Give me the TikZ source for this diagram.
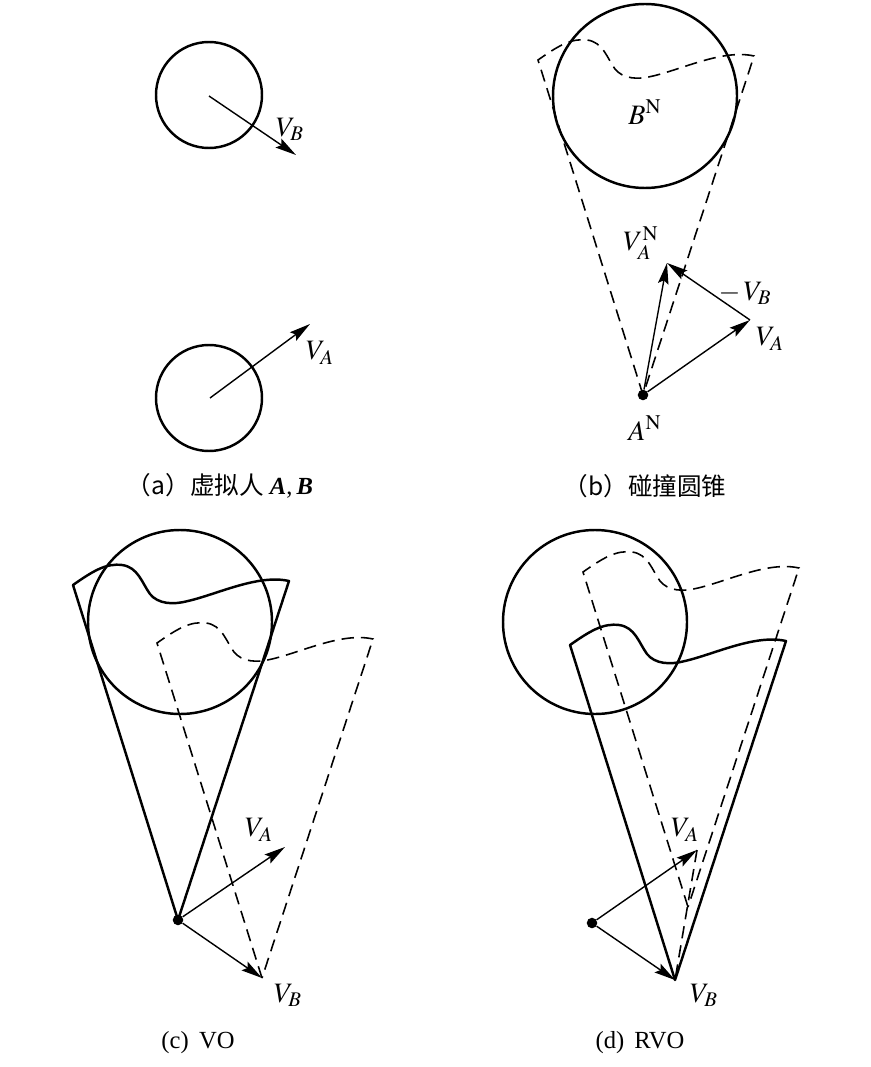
\documentclass[tikz,border=0pt]{standalone}
\usepackage{mathptmx}
\usepackage{fontspec}
\setmainfont{Liberation Serif}
\newfontfamily\cjk{Noto Sans CJK SC}
\usetikzlibrary{arrows.meta}

\tikzset{
  circ/.style={line width=1.4pt},
  vec/.style={line width=0.8pt,-{Stealth[length=12pt,width=6pt,inset=2pt]}},
  solidcone/.style={line width=1.4pt,line join=round},
  dashcone/.style={line width=0.9pt,dash pattern=on 7pt off 4pt},
  lab/.style={font=\fontsize{16}{18}\selectfont,inner sep=0pt},
  captxt/.style={font=\fontsize{14}{16}\selectfont,inner sep=0pt},
  dot/.style={circle,fill,inner sep=0pt,minimum size=6pt},
  vocone/.pic={
    \draw[pic actions] (0,0) -- (-105,-335)
      .. controls (-85,-349) and (-72,-357) .. (-56,-355)
      .. controls (-40,-353) and (-36,-337) .. (-28,-326)
      .. controls (-20,-316) and (-5,-315) .. (10,-319)
      .. controls (40,-326) and (80,-346) .. (111,-339) -- cycle;
  }
}

\begin{document}
\begin{tikzpicture}[x=0.02cm,y=-0.02cm]
  \useasboundingbox (0,0) rectangle (870,1067);

  % (a)
  \draw[circ] (209,95) circle (53);
  \draw[circ] (209,398) circle (53);
  \coordinate (aB) at (209,96);
  \coordinate (aBe) at (296,155);
  \coordinate (aA) at (210,398);
  \coordinate (aAe) at (310,324);
  \draw[vec] (aB) -- (aBe);
  \draw[vec] (aA) -- (aAe);
  \node[lab] (laB) at (290,129) {$V_B$};
  \node[lab] (laA) at (320,353) {$V_A$};
  \node[captxt] (capa) at (220,486) {{\cjk （a）虚拟人} \textbf{\textit{A}},\,\textbf{\textit{B}}};

  % (b)
  \draw[circ] (645,96) circle (92);
  \pic[dashcone] at (643,395) {vocone};
  \node[dot] (bAN) at (643,395) {};
  \coordinate (bVA) at (750,320);
  \coordinate (bVN) at (667,263);
  \draw[vec] (bAN) -- (bVA);
  \draw[vec] (bVA) -- (bVN);
  \draw[vec] (bAN) -- (bVN);
  \node[lab] (lbB) at (645,112) {$B^{\mathrm{N}}$};
  \node[lab] (lbVN) at (641,243) {$V_A^{\mathrm{N}}$};
  \node[lab] (lbmB) at (745,293) {$-\,V_B$};
  \node[lab] (lbA) at (770,339) {$V_A$};
  \node[lab] (lbAN) at (645,428) {$A^{\mathrm{N}}$};
  \node[captxt] (capb) at (645,486) {\cjk （b）碰撞圆锥};

  % (c)
  \draw[circ] (180,622) circle (92);
  \pic[solidcone] at (178,920) {vocone};
  \pic[dashcone] at (262,978) {vocone};
  \node[dot] (cO) at (178,920) {};
  \coordinate (cVA) at (285,847);
  \coordinate (cVB) at (262,978);
  \draw[vec] (cO) -- (cVA);
  \draw[vec] (cO) -- (cVB);
  \node[lab] (lcA) at (259,830) {$V_A$};
  \node[lab] (lcB) at (288,995) {$V_B$};
  \node[captxt] (capc) at (198,1043) {(c)\, VO};

  % (d)
  \draw[circ] (595,622) circle (92);
  \pic[solidcone] at (675,980) {vocone};
  \pic[dashcone] at (688,907) {vocone};
  \node[dot] (dO) at (592,923) {};
  \coordinate (dVA) at (697,850);
  \coordinate (dVB) at (675,980);
  \draw[dashcone] (dVA) -- (dVB);
  \draw[vec] (dO) -- (dVA);
  \draw[vec] (dO) -- (dVB);
  \node[lab] (ldA) at (685,830) {$V_A$};
  \node[lab] (ldB) at (704,995) {$V_B$};
  \node[captxt] (capd) at (640,1043) {(d)\, RVO};
\end{tikzpicture}
\end{document}
